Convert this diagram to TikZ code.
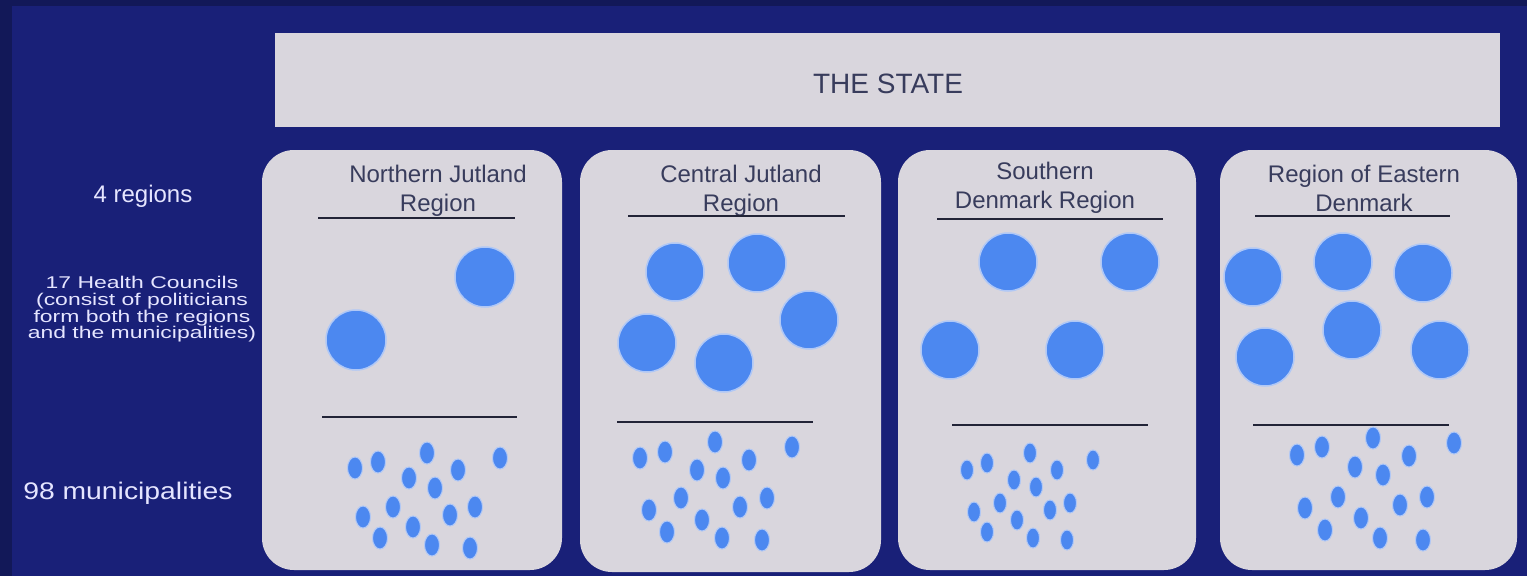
\documentclass[tikz,border=0pt]{standalone}
\usepackage{fontspec}
\setmainfont{Liberation Sans}
\usepackage{color}

\definecolor{navy}{RGB}{25,32,120}
\definecolor{navyedge}{RGB}{18,24,88}
\definecolor{card}{RGB}{217,214,221}
\definecolor{inkgrey}{RGB}{56,60,92}
\definecolor{bubble}{RGB}{76,136,240}
\definecolor{halo}{RGB}{176,200,246}

\newcommand{\stretchx}[2]{\scalebox{#1}[1]{#2}}

\begin{document}
\begin{tikzpicture}[%
      x=1pt, y=-1pt,
      panel/.style={fill=card, rounded corners=32pt},
      council/.style={fill=bubble, draw=halo, line width=1.5pt},
      munic/.style={fill=bubble, draw=halo, line width=1pt},
      rule/.style={draw=inkgrey!60!black, line width=1.8pt},
      heading/.style={text=inkgrey, align=center, inner sep=0pt, font=\fontsize{24}{29}\selectfont},
      sidetext/.style={text=white!90!blue, align=center, inner sep=0pt},
      ]
      \useasboundingbox (0,0) rectangle (1527,576);
      \fill [navyedge] (0,0) rectangle (1527,576);
      \fill [navy] (12,6) rectangle (1527,576);

      % the state
      \fill [card] (275,33) rectangle (1500,127);
      \node [text=inkgrey, inner sep=0pt, font=\fontsize{28}{30}\selectfont] (state) at (888,84) {THE STATE};

      % the four regions
      \path [panel] (262,150) rectangle (562,570);
      \path [panel] (580,150) rectangle (881,572);
      \path [panel] (898,150) rectangle (1196,570);
      \path [panel] (1220,150) rectangle (1517,570);

      \node [heading] (north) at (438,191) {Northern Jutland\\Region};
      \node [heading] (central) at (741,191) {Central Jutland\\Region};
      \node [heading] (south) at (1045,188) {Southern\\Denmark Region};
      \node [heading] (east) at (1364,188) {Region of Eastern\\Denmark};

      \draw [rule] (318,218) -- (515,218);
      \draw [rule] (628,216) -- (845,216);
      \draw [rule] (937,219) -- (1163,219);
      \draw [rule] (1255,216) -- (1450,216);

      \draw [rule] (322,417) -- (517,417);
      \draw [rule] (617,422) -- (813,422);
      \draw [rule] (952,425) -- (1148,425);
      \draw [rule] (1253,425) -- (1449,425);

      % health councils
      \filldraw [council] (485,277) circle (30pt);
      \filldraw [council] (356,340) circle (30pt);

      \filldraw [council] (675,272) circle (29pt);
      \filldraw [council] (757,263) circle (29pt);
      \filldraw [council] (647,343) circle (29pt);
      \filldraw [council] (809,320) circle (29pt);
      \filldraw [council] (724,363) circle (29pt);

      \filldraw [council] (1008,262) circle (29pt);
      \filldraw [council] (1130,262) circle (29pt);
      \filldraw [council] (950,350) circle (29pt);
      \filldraw [council] (1075,350) circle (29pt);

      \filldraw [council] (1253,277) circle (29pt);
      \filldraw [council] (1343,262) circle (29pt);
      \filldraw [council] (1423,273) circle (29pt);
      \filldraw [council] (1352,330) circle (29pt);
      \filldraw [council] (1265,357) circle (29pt);
      \filldraw [council] (1440,350) circle (29pt);

      % municipalities
      \foreach \x/\y in {355/468, 378/462, 427/453, 458/470, 500/458, 409/478, 435/488, 393/507,
                         475/507, 450/515, 363/517, 413/527, 380/538, 432/545, 470/548}
        \filldraw [munic] (\x,\y) ellipse [x radius=7.5pt, y radius=11pt];
      \foreach \x/\y in {640/458, 665/452, 715/442, 749/460, 792/447, 697/470, 723/478, 681/498,
                         767/498, 740/507, 649/510, 702/520, 667/532, 722/538, 762/540}
        \filldraw [munic] (\x,\y) ellipse [x radius=7.5pt, y radius=11pt];
      \foreach \x/\y in {967/470, 987/463, 1030/453, 1057/470, 1093/460, 1014/480, 1036/487, 1000/503,
                         1070/503, 1050/510, 974/512, 1017/520, 987/532, 1033/538, 1067/540}
        \filldraw [munic] (\x,\y) ellipse [x radius=6.5pt, y radius=10pt];
      \foreach \x/\y in {1297/455, 1322/447, 1373/438, 1409/456, 1454/443, 1355/467, 1383/475, 1338/497,
                         1427/497, 1400/505, 1305/508, 1361/518, 1325/530, 1380/538, 1423/540}
        \filldraw [munic] (\x,\y) ellipse [x radius=7.5pt, y radius=11pt];

      % side labels
      \node [sidetext, font=\fontsize{24}{28}\selectfont] (nreg) at (143,196) {4 regions};
      \node [sidetext, font=\fontsize{17}{14.5}\selectfont] (hcouncil) at (142,310)
        {\stretchx{1.35}{\begin{tabular}{@{}c@{}}17 Health Councils\\(consist of politicians\\form both the regions\\and the municipalities)\end{tabular}}};
      \node [sidetext, font=\fontsize{24}{28}\selectfont] (nmun) at (128,493) {\stretchx{1.18}{98 municipalities}};
\end{tikzpicture}
\end{document}
